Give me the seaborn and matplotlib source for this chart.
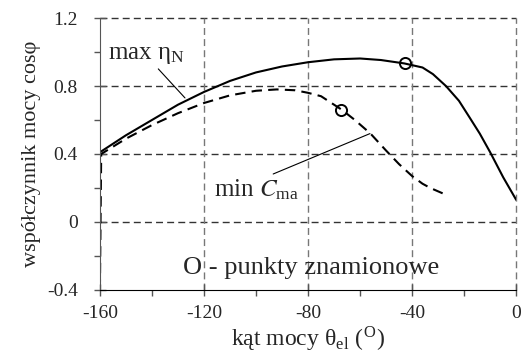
import matplotlib
matplotlib.use("Agg")
import matplotlib.pyplot as plt
import seaborn as sns
import pandas as pd
from matplotlib.ticker import MultipleLocator

# curve "max eta_N" (solid)
theta_max = [-160, -150, -140, -130, -120, -110, -100, -90, -80, -70, -60, -52,
             -43, -36, -32, -27, -22, -18, -14, -10, -5, 0]
cos_max = [0.41, 0.51, 0.60, 0.69, 0.765, 0.83, 0.88, 0.915, 0.94, 0.957, 0.962,
           0.953, 0.933, 0.909, 0.87, 0.80, 0.713, 0.617, 0.52, 0.41, 0.263, 0.13]

# curve "min C_ma" (dashed)
theta_min = [-160, -159.5, -150, -140, -130, -120, -110, -100, -92, -85, -80, -75,
             -71, -67, -62, -56, -50, -45, -40, -36, -33, -30, -27]
cos_min = [-0.4, 0.40, 0.49, 0.57, 0.64, 0.70, 0.745, 0.772, 0.78, 0.775, 0.76,
           0.74, 0.70, 0.66, 0.60, 0.52, 0.42, 0.34, 0.27, 0.225, 0.20, 0.18, 0.16]

# rated points
theta_rated = [-42.7, -67.4]
cos_rated = [0.933, 0.66]

sns.set_style("ticks")
plt.rcParams['font.family'] = ['Liberation Serif', 'DejaVu Serif']
plt.rcParams['mathtext.fontset'] = 'stix'
plt.rcParams['axes.unicode_minus'] = False

fig = plt.figure(figsize=(5.23, 3.54), dpi=100)
ax = fig.add_axes([0.191, 0.181, 0.796, 0.768])

df_max = pd.DataFrame({'theta': theta_max, 'cos': cos_max})
df_min = pd.DataFrame({'theta': theta_min, 'cos': cos_min})

sns.lineplot(data=df_max, x='theta', y='cos', ax=ax, color='black', lw=1.5,
             estimator=None, sort=False)
sns.lineplot(data=df_min, x='theta', y='cos', ax=ax, color='black', lw=1.5,
             estimator=None, sort=False, dashes=False, linestyle=(0, (5, 3)))
ax.plot(theta_rated, cos_rated, 'o', ms=8, mfc='none', mec='black', mew=1.4,
        zorder=5)

ax.set_xlim(-160, 0)
ax.set_ylim(-0.4, 1.2)
ax.xaxis.set_major_locator(MultipleLocator(40))
ax.xaxis.set_minor_locator(MultipleLocator(20))
ax.yaxis.set_minor_locator(MultipleLocator(0.2))
ax.set_yticks([-0.4, 0, 0.4, 0.8, 1.2])
ax.set_yticklabels(['-0.4', '0', '0.4', '0.8', '1.2'])

# dashed grid
for yv in [0, 0.4, 0.8, 1.2]:
    ax.axhline(yv, color='#333333', lw=1, ls=(0, (5, 3)), clip_on=False, zorder=0)
for xv in [-120, -80, -40, 0]:
    ax.axvline(xv, color='#777777', lw=1, ls=(0, (5, 3)), clip_on=False, zorder=0)

sns.despine(ax=ax, top=True, right=True)
ax.spines['left'].set_color('#555555')
ax.spines['bottom'].set_color('black')
ax.tick_params(axis='both', which='major', direction='inout', length=8,
               labelsize=14, width=1, color='#555555')
ax.tick_params(axis='x', which='major', pad=7)
ax.tick_params(axis='y', which='major', pad=12)
ax.tick_params(axis='both', which='minor', direction='out', length=4, width=1,
               color='#555555')

ax.set_xlabel('kąt mocy θ$_{\\mathregular{el}}$ ($^{\\mathregular{O}}$)',
              fontsize=17, labelpad=2)
ax.set_ylabel('współczynnik mocy cosφ', fontsize=16, labelpad=4)

ax.annotate('max η$_{\\mathregular{N}}$', xy=(-127.3, 0.73), xytext=(-157, 0.92),
            fontsize=18, ha='left', va='bottom',
            arrowprops=dict(arrowstyle='-', color='black', lw=0.8,
                            shrinkA=0, shrinkB=0, relpos=(0.5, 0.45)))
ax.annotate('min $C_{\\mathregular{ma}}$', xy=(-56.2, 0.52), xytext=(-116, 0.12),
            fontsize=18, ha='left', va='bottom',
            arrowprops=dict(arrowstyle='-', color='black', lw=0.8,
                            shrinkA=0, shrinkB=0, relpos=(0.6, 1.0)))
ax.text(-128, -0.27, 'O - punkty znamionowe', fontsize=19, ha='left', va='center')

fig.savefig('out.png', dpi=100)
